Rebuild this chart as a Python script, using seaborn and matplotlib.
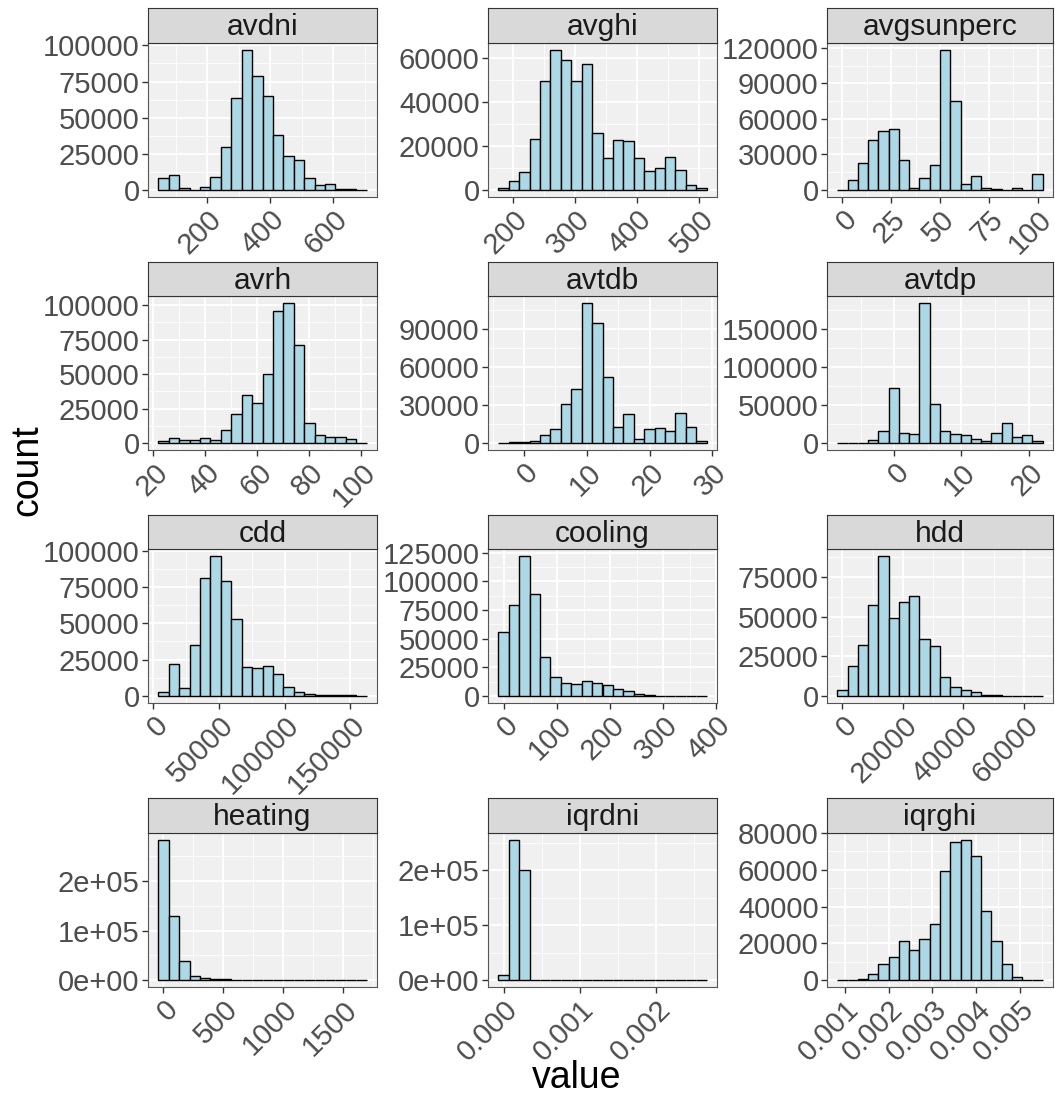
import numpy as np
import pandas as pd
import matplotlib
matplotlib.use("Agg")
import matplotlib.pyplot as plt
import seaborn as sns

# ---------------- data ----------------
facets = ["avdni", "avghi", "avgsunperc", "avrh", "avtdb", "avtdp",
          "cdd", "cooling", "hdd", "heating", "iqrdni", "iqrghi"]

avdni_counts = [8000, 10200, 1200, 200, 1850, 8800, 29400, 63700, 96800, 78500,
                65300, 38200, 23800, 20400, 8100, 3500, 4200, 700, 500, 300]
avghi_counts = [760, 3970, 8400, 23200, 49500, 63800, 59400, 49500, 57300, 26100,
                14700, 22600, 22300, 14700, 8700, 10100, 15100, 8900, 2300, 1070]
avgsunperc_counts = [300, 8800, 22400, 41900, 50100, 51500, 25500, 1700, 9900, 21200,
                     118300, 75300, 5400, 11900, 1400, 1100, 0, 1400, 0, 13300]
avrh_counts = [1700, 3400, 2200, 1950, 3400, 2200, 9500, 20900, 35000, 29200,
               50100, 95400, 101500, 71000, 14800, 6100, 4400, 4100, 2900, 200]
avtdb_counts = [200, 500, 800, 1850, 6600, 11400, 31200, 42400, 110700, 95100,
                51900, 12700, 23000, 3400, 11400, 11900, 9500, 23800, 12700, 1600]
avtdp_counts = [300, 100, 100, 4000, 15900, 72400, 13200, 12400, 184900, 52100,
                15900, 12400, 11000, 5300, 2200, 13200, 26000, 7500, 10100, 2600]
cdd_counts = [3000, 22200, 5500, 35100, 81000, 96300, 79400, 53200, 20200, 19500,
              20900, 14900, 6000, 3000, 1150, 500, 500, 700, 500, 200]
cooling_counts = [55800, 79100, 122100, 89200, 34000, 16600, 11000, 10200, 13100, 11600,
                  9300, 6400, 4100, 1700, 900, 300, 100, 100, 100, 50]
hdd_counts = [3600, 18900, 32400, 57600, 88200, 48900, 59000, 63200, 35700, 31300,
              12000, 5500, 3600, 2300, 630, 400, 200, 100, 100, 100]
heating_counts = [283400, 128800, 39300, 7500, 4000, 2000, 1400, 700, 700, 500,
                  200, 100, 100, 100, 50, 50, 50, 50, 50, 50]
iqrdni_counts = [9100, 254900, 200000, 0, 0, 0, 0, 0, 0, 0,
                 0, 0, 0, 0, 0, 0, 0, 0, 0, 300]
iqrghi_counts = [100, 200, 500, 3500, 8900, 12700, 21100, 16400, 22200, 30700,
                 59300, 74900, 76000, 67500, 37300, 21500, 8700, 1500, 100, 50]

# first and last bin edge of each facet
avdni_range = (45, 705)
avghi_range = (176, 512)
avgsunperc_range = (-2.6, 102.6)
avrh_range = (21.9, 102.0)
avtdb_range = (-4.1, 29.1)
avtdp_range = (-8.5, 22.1)
cdd_range = (3800, 162400)
cooling_range = (-10.6, 381.9)
hdd_range = (-1730, 66270)
heating_range = (-42, 1700)
iqrdni_range = (-0.0000696, 0.002661)
iqrghi_range = (0.000828, 0.005515)

# axis breaks
avdni_xticks = [200, 400, 600]
avghi_xticks = [200, 300, 400, 500]
avgsunperc_xticks = [0, 25, 50, 75, 100]
avrh_xticks = [20, 40, 60, 80, 100]
avtdb_xticks = [0, 10, 20, 30]
avtdp_xticks = [0, 10, 20]
cdd_xticks = [0, 50000, 100000, 150000]
cooling_xticks = [0, 100, 200, 300, 400]
hdd_xticks = [0, 20000, 40000, 60000]
heating_xticks = [0, 500, 1000, 1500]
iqrdni_xticks = [0.000, 0.001, 0.002]
iqrghi_xticks = [0.001, 0.002, 0.003, 0.004, 0.005]

avdni_yticks = [0, 25000, 50000, 75000, 100000]
avghi_yticks = [0, 20000, 40000, 60000]
avgsunperc_yticks = [0, 30000, 60000, 90000, 120000]
avrh_yticks = [0, 25000, 50000, 75000, 100000]
avtdb_yticks = [0, 30000, 60000, 90000]
avtdp_yticks = [0, 50000, 100000, 150000]
cdd_yticks = [0, 25000, 50000, 75000, 100000]
cooling_yticks = [0, 25000, 50000, 75000, 100000, 125000]
hdd_yticks = [0, 25000, 50000, 75000]
heating_yticks = [0, 100000, 200000]
iqrdni_yticks = [0, 100000, 200000]
iqrghi_yticks = [0, 20000, 40000, 60000, 80000]

sci_y_labels = ["0e+00", "1e+05", "2e+05"]
iqrdni_xlabels = ["0.000", "0.001", "0.002"]
iqrghi_xlabels = ["0.001", "0.002", "0.003", "0.004", "0.005"]

counts_all = [avdni_counts, avghi_counts, avgsunperc_counts, avrh_counts, avtdb_counts,
              avtdp_counts, cdd_counts, cooling_counts, hdd_counts, heating_counts,
              iqrdni_counts, iqrghi_counts]
ranges_all = [avdni_range, avghi_range, avgsunperc_range, avrh_range, avtdb_range,
              avtdp_range, cdd_range, cooling_range, hdd_range, heating_range,
              iqrdni_range, iqrghi_range]
xticks_all = [avdni_xticks, avghi_xticks, avgsunperc_xticks, avrh_xticks, avtdb_xticks,
              avtdp_xticks, cdd_xticks, cooling_xticks, hdd_xticks, heating_xticks,
              iqrdni_xticks, iqrghi_xticks]
yticks_all = [avdni_yticks, avghi_yticks, avgsunperc_yticks, avrh_yticks, avtdb_yticks,
              avtdp_yticks, cdd_yticks, cooling_yticks, hdd_yticks, heating_yticks,
              iqrdni_yticks, iqrghi_yticks]

# ---------------- style ----------------
sns.set_style("white")
plt.rcParams["font.family"] = ["Liberation Sans", "DejaVu Sans"]

W, H = 1055, 1097
fig = plt.figure(figsize=(W / 100, H / 100), dpi=100)

col_x = [(148, 377), (488, 717), (827, 1053)]
row_y = [(8, 43, 197), (262, 296, 450), (515, 549, 703), (798, 833, 987)]

PANEL_BG = "#F0F0F0"
STRIP_BG = "#D9D9D9"
TICK_COL = "#4D4D4D"
BORDER = "#555555"
TICK_FS = 21
STRIP_FS = 21.5


def minor_breaks(ticks, lo, hi):
    step = ticks[1] - ticks[0]
    out = []
    t = ticks[0] - step / 2
    while t <= hi + 1e-12:
        if t >= lo:
            out.append(t)
        t += step
    return out


for i, name in enumerate(facets):
    r, c = divmod(i, 3)
    x0, x1 = col_x[c]
    ys, yp, yb = row_y[r]
    ax = fig.add_axes([x0 / W, 1 - yb / H, (x1 - x0) / W, (yb - yp) / H])
    sax = fig.add_axes([x0 / W, 1 - yp / H, (x1 - x0) / W, (yp - ys) / H])

    counts = np.array(counts_all[i], dtype=float)
    lo, hi = ranges_all[i]
    nb = len(counts)
    width = (hi - lo) / nb
    centers = lo + width * (np.arange(nb) + 0.5)
    df = pd.DataFrame({"value": centers, "n": counts})

    ax.set_facecolor(PANEL_BG)
    sns.histplot(data=df, x="value", weights="n", bins=nb, binrange=(lo, hi), ax=ax,
                 color="#ADD8E6", edgecolor="black", linewidth=1.0, alpha=1.0,
                 zorder=3)

    span = hi - lo
    xl = (lo - 0.05 * span, hi + 0.05 * span)
    ymax = counts.max()
    yl = (-0.05 * ymax, 1.05 * ymax)
    ax.set_xlim(*xl)
    ax.set_ylim(*yl)

    xt = xticks_all[i]
    yt = yticks_all[i]
    ax.set_xticks(xt)
    ax.set_yticks(yt)
    ax.set_xticks(minor_breaks(xt, *xl), minor=True)
    ax.set_yticks(minor_breaks(yt, *yl), minor=True)

    if name == "iqrdni":
        xlabels = iqrdni_xlabels
    elif name == "iqrghi":
        xlabels = iqrghi_xlabels
    else:
        xlabels = [f"{v:g}" for v in xt]
    if name in ("heating", "iqrdni"):
        ylabels = sci_y_labels
    else:
        ylabels = [f"{v:d}" for v in yt]
    ax.set_xticklabels(xlabels, rotation=45, ha="right", va="top",
                       rotation_mode="anchor", fontsize=TICK_FS, color=TICK_COL)
    ax.set_yticklabels(ylabels, fontsize=TICK_FS, color=TICK_COL)

    ax.grid(which="major", color="white", linewidth=1.3, zorder=0)
    ax.grid(which="minor", color="white", linewidth=0.6, zorder=0)
    ax.set_axisbelow(True)
    ax.tick_params(which="major", length=4, width=1, color="#333333",
                   direction="out", bottom=True, left=True, pad=2)
    ax.tick_params(which="minor", length=0)
    ax.set_xlabel("")
    ax.set_ylabel("")
    for s in ax.spines.values():
        s.set_color(BORDER)
        s.set_linewidth(0.8)

    sax.set_facecolor(STRIP_BG)
    sax.set_xticks([])
    sax.set_yticks([])
    for s in sax.spines.values():
        s.set_color("#333333")
        s.set_linewidth(0.8)
    sax.text(0.5, 0.45, name, ha="center", va="center", fontsize=STRIP_FS,
             color="#1A1A1A", transform=sax.transAxes)

fig.text(577 / W, 1 - 1078 / H, "value", ha="center", va="center", fontsize=27, color="black")
fig.text(27 / W, 1 - 470 / H, "count", ha="center", va="center", fontsize=27,
         rotation=90, color="black")

fig.savefig("out.png", dpi=100)
